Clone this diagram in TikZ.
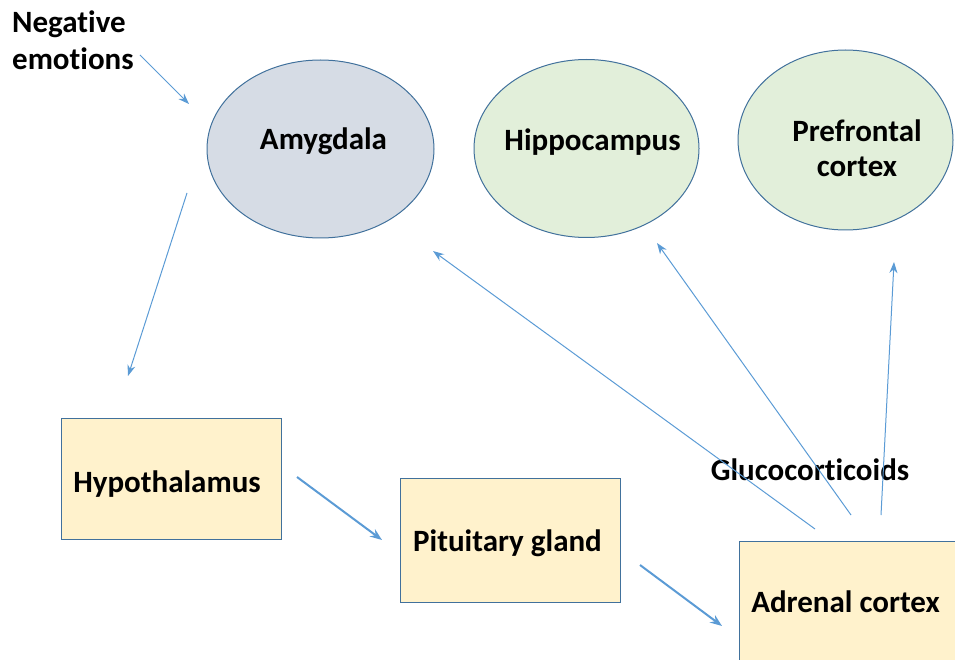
\documentclass[tikz,border=0pt]{standalone}
\usepackage{fontspec}
\setmainfont[Ligatures=NoCommon]{Carlito}
\usetikzlibrary{shapes.geometric,arrows.meta}
\definecolor{outl}{HTML}{41719C}
\definecolor{arr}{HTML}{5B9BD5}
\definecolor{amyg}{HTML}{D6DCE5}
\definecolor{grn}{HTML}{E2EFDA}
\definecolor{yel}{HTML}{FFF2CC}
\tikzset{
  oval/.style={ellipse, draw=outl, line width=1pt, inner sep=0pt},
  boxnode/.style={rectangle, draw=outl, line width=1pt, fill=yel, inner sep=0pt, anchor=north west},
  lbl/.style={font=\fontsize{31}{36}\selectfont\bfseries, inner sep=0pt, anchor=base, align=center},
  thinarr/.style={draw=arr, line width=1pt, -{Stealth[length=11pt,width=8pt]}},
  thickarr/.style={draw=arr, line width=2pt, -{Stealth[length=12pt,width=9pt]}}
}
\begin{document}
\begin{tikzpicture}[x=1pt,y=-1pt]
\clip (0,0) rectangle (955,660);
\useasboundingbox (0,0) rectangle (955,660);
% ovals
\node[oval, fill=amyg, minimum width=227pt, minimum height=178pt] (amy) at (320.5,149) {};
\node[oval, fill=grn, minimum width=225pt, minimum height=178pt] (hip) at (586.5,148.5) {};
\node[oval, fill=grn, minimum width=215pt, minimum height=180pt] (pfc) at (845.5,140) {};
% boxes
\node[boxnode, minimum width=220pt, minimum height=121pt] (hyp) at (61,418) {};
\node[boxnode, minimum width=220pt, minimum height=124pt] (pit) at (400,478) {};
\node[boxnode, minimum width=230pt, minimum height=135pt] (adr) at (739,541) {};
% labels
\node[lbl, anchor=base west] (neg1) at (12,33) {Negative};
\node[lbl, anchor=base west] (neg2) at (12,70) {emotions};
\node[lbl] (amyt) at (323.5,150) {Amygdala};
\node[lbl] (hipt) at (592.5,151) {Hippocampus};
\node[lbl] (pfct1) at (857,142) {Prefrontal};
\node[lbl] (pfct2) at (857,177) {cortex};
\node[lbl] (hypt) at (167,492) {Hypothalamus};
\node[lbl] (pitt) at (507.5,551) {Pituitary gland};
\node[lbl] (glu) at (810,480) {Glucocorticoids};
\node[lbl] (adrt) at (845.5,612) {Adrenal cortex};
% connector end points
\coordinate (n1) at (140,55);  \coordinate (n2) at (189,104);
\coordinate (a1) at (187,193); \coordinate (a2) at (128,376);
\coordinate (h1) at (297,477); \coordinate (h2) at (382,540);
\coordinate (p1) at (640,565); \coordinate (p2) at (722,626);
\coordinate (g1) at (815,529); \coordinate (g1e) at (433,251);
\coordinate (g2) at (851,515); \coordinate (g2e) at (657,243);
\coordinate (g3) at (881,515); \coordinate (g3e) at (894,262);
% connectors
\draw[thinarr] (n1) -- (n2);
\draw[thinarr] (a1) -- (a2);
\draw[thickarr] (h1) -- (h2);
\draw[thickarr] (p1) -- (p2);
\draw[thinarr] (g1) -- (g1e);
\draw[thinarr] (g2) -- (g2e);
\draw[thinarr] (g3) -- (g3e);
\end{tikzpicture}
\end{document}
